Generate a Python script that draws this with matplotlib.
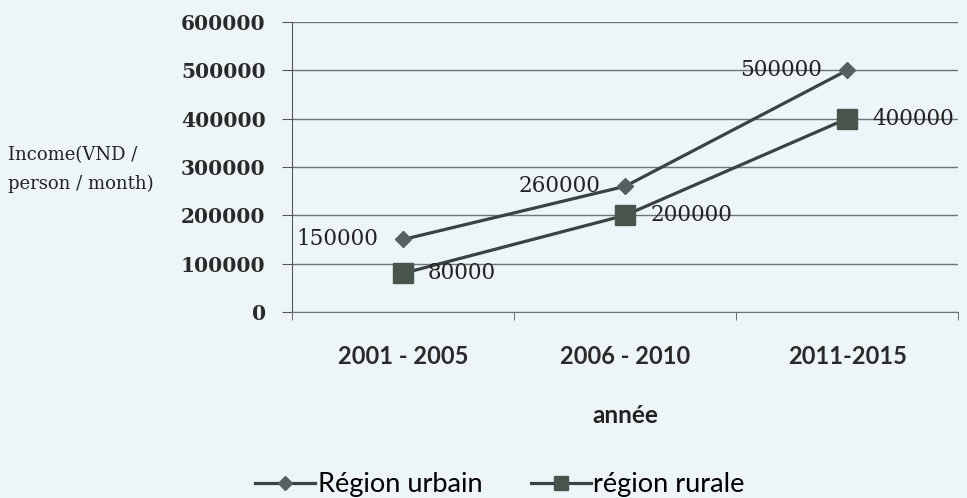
import matplotlib
matplotlib.use("Agg")
import matplotlib.pyplot as plt
from matplotlib.lines import Line2D

categories = ["2001 - 2005", "2006 - 2010", "2011-2015"]
urban = [150000, 260000, 500000]
rural = [80000, 200000, 400000]
yticks = [0, 100000, 200000, 300000, 400000, 500000, 600000]

bg = "#edf5f9"
line_c = "#3b4242"
fig = plt.figure(figsize=(9.67, 4.98), dpi=100, facecolor=bg)
ax = fig.add_axes([0.302, 0.3735, 0.689, 0.5825], facecolor=bg)

x = list(range(len(categories)))
ax.plot(x, urban, color=line_c, lw=2.3, marker="D", ms=8.5, mfc="#556060", mec="#556060", zorder=3)
ax.plot(x, rural, color=line_c, lw=2.3, marker="s", ms=15, mfc="#47554c", mec="#47554c", zorder=3)

for xi, v in zip(x, urban):
    ax.annotate(f"{v}", (xi, v), xytext=(-18, 0), textcoords="offset points",
                ha="right", va="center", family="DejaVu Serif", fontsize=15.5, color="#222")
for xi, v in zip(x, rural):
    ax.annotate(f"{v}", (xi, v), xytext=(18, 0), textcoords="offset points",
                ha="left", va="center", family="DejaVu Serif", fontsize=15.5, color="#222")

ax.set_xlim(-0.5, len(categories) - 0.5)
ax.set_ylim(0, 600000)
ax.set_yticks(yticks)
ax.set_yticklabels([str(t) for t in yticks], family="DejaVu Serif", fontsize=14.5,
                   fontweight="bold", color="#2a2a2a")
ax.yaxis.grid(True, color="#6f7373", lw=1)
ax.set_axisbelow(True)

ax.set_xticks([i for i in x])
ax.set_xticklabels(categories, family="Lato", fontsize=17, fontweight="bold", color="#2a2a2a")
ax.tick_params(axis="x", length=0, pad=24)
ax.set_xticks([-0.5, 0.5, 1.5, 2.5], minor=True)
ax.tick_params(axis="x", which="minor", length=6, color="#555", direction="out")
ax.tick_params(axis="y", length=7, color="#555", pad=12)

for s in ["top", "right"]:
    ax.spines[s].set_visible(False)
ax.spines["left"].set_color("#555")
ax.spines["bottom"].set_color("#6f7373")

ax.set_xlabel("année", family="Lato", fontsize=17.5, fontweight="bold", color="#222", labelpad=26)

fig.text(0.008, 0.659, "Income(VND /\nperson / month)", family="DejaVu Serif", fontsize=13,
         color="#222", va="center", ha="left", linespacing=1.75)

handles = [Line2D([], [], color=line_c, lw=2.3, marker="D", ms=7, mfc="#556060", mec="#556060"),
           Line2D([], [], color=line_c, lw=2.3, marker="s", ms=10, mfc="#47554c", mec="#47554c")]
fig.legend(handles, ["Région urbain", "région rurale"], loc="center", bbox_to_anchor=(0.517, 0.027),
           ncol=2, frameon=False, prop={"family": "Lato", "size": 19.5}, handlelength=2.2,
           handletextpad=0.1, columnspacing=1.8)

fig.savefig("out.png", dpi=100, facecolor=bg)
